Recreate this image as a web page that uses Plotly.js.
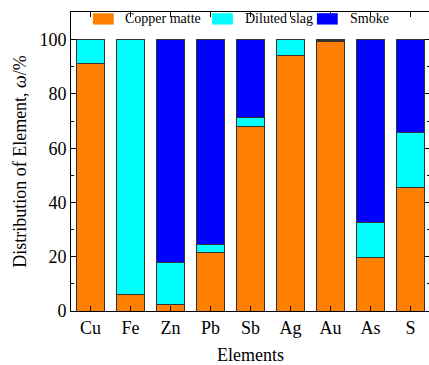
<!DOCTYPE html>
<html>
<head>
<meta charset="utf-8">
<script src="https://cdn.plot.ly/plotly-3.0.1.min.js"></script>
<style>
html,body{margin:0;padding:0;overflow:hidden;background:#fff;}
#chart{width:431px;height:365px;}
</style>
</head>
<body>
<div id="chart"></div>
<script>
const elements = ["Cu","Fe","Zn","Pb","Sb","Ag","Au","As","S"];
const copperMatte = [91.3, 6.1, 2.4, 21.7, 68.0, 94.1, 99.4, 19.6, 45.4];
const dilutedSlag = [8.7, 93.9, 15.6, 2.8, 3.5, 5.9, 0.4, 13.0, 20.4];
const smoke = [0, 0, 82.0, 75.5, 28.5, 0, 0.2, 67.4, 34.2];
const seriesNames = ["Copper matte","Diluted slag","Smoke"];
const seriesValues = [copperMatte, dilutedSlag, smoke];
const seriesColors = ["#FF8000","#00FFFF","#0000FF"];
const yTicks = [0,20,40,60,80,100];

const font = "'Liberation Serif', 'Times New Roman', Times, serif";

const traces = seriesNames.map((n,i)=>({
  type:"bar", name:n, x:elements, y:seriesValues[i],
  marker:{color:seriesColors[i], line:{color:"#333333", width:1}},
  width:0.7, showlegend:false
}));

// custom legend (wide swatches like the reference)
const legX = [0.061, 0.393, 0.685];
const shapes = [];
const annotations = [];
seriesNames.forEach((n,i)=>{
  shapes.push({type:"rect", xref:"paper", yref:"paper",
    x0:legX[i], x1:legX[i]+0.058, y0:0.958, y1:0.996,
    fillcolor:seriesColors[i], line:{width:0}});
  annotations.push({xref:"paper", yref:"paper", x:legX[i]+0.088, y:0.977,
    xanchor:"left", yanchor:"middle", text:n, showarrow:false, borderpad:0,
    font:{family:font, size:14, color:"#000"}});
});

const layout = {
  width:431, height:365,
  margin:{l:71, r:1, t:12, b:54},
  barmode:"stack",
  bargap:0.3,
  paper_bgcolor:"#fff", plot_bgcolor:"#fff",
  font:{family:font, color:"#000"},
  xaxis:{
    type:"category", range:[-0.49, 8.49],
    ticks:"inside", ticklen:5, tickcolor:"#000", tickwidth:1,
    showline:true, linecolor:"#000", linewidth:1, mirror:"ticks",
    showgrid:false, zeroline:false,
    tickfont:{family:font, size:18, color:"#000"},
    title:{text:"Elements", font:{family:font, size:18, color:"#000"}, standoff:12}
  },
  yaxis:{
    range:[0,110.2], tickvals:yTicks, ticktext:yTicks.map(String),
    ticks:"inside", ticklen:5, tickcolor:"#000", tickwidth:1,
    minor:{dtick:10, ticks:"inside", ticklen:3, tickcolor:"#000"},
    showline:true, linecolor:"#000", linewidth:1, mirror:"ticks",
    showgrid:false, zeroline:false,
    tickfont:{family:font, size:18, color:"#000"},
    title:{text:"Distribution of Element, <i>ω</i>/%", font:{family:font, size:18, color:"#000"}, standoff:8}
  },
  shapes:shapes,
  annotations:annotations
};

Plotly.newPlot("chart", traces, layout, {staticPlot:true, displayModeBar:false});
</script>
</body>
</html>
